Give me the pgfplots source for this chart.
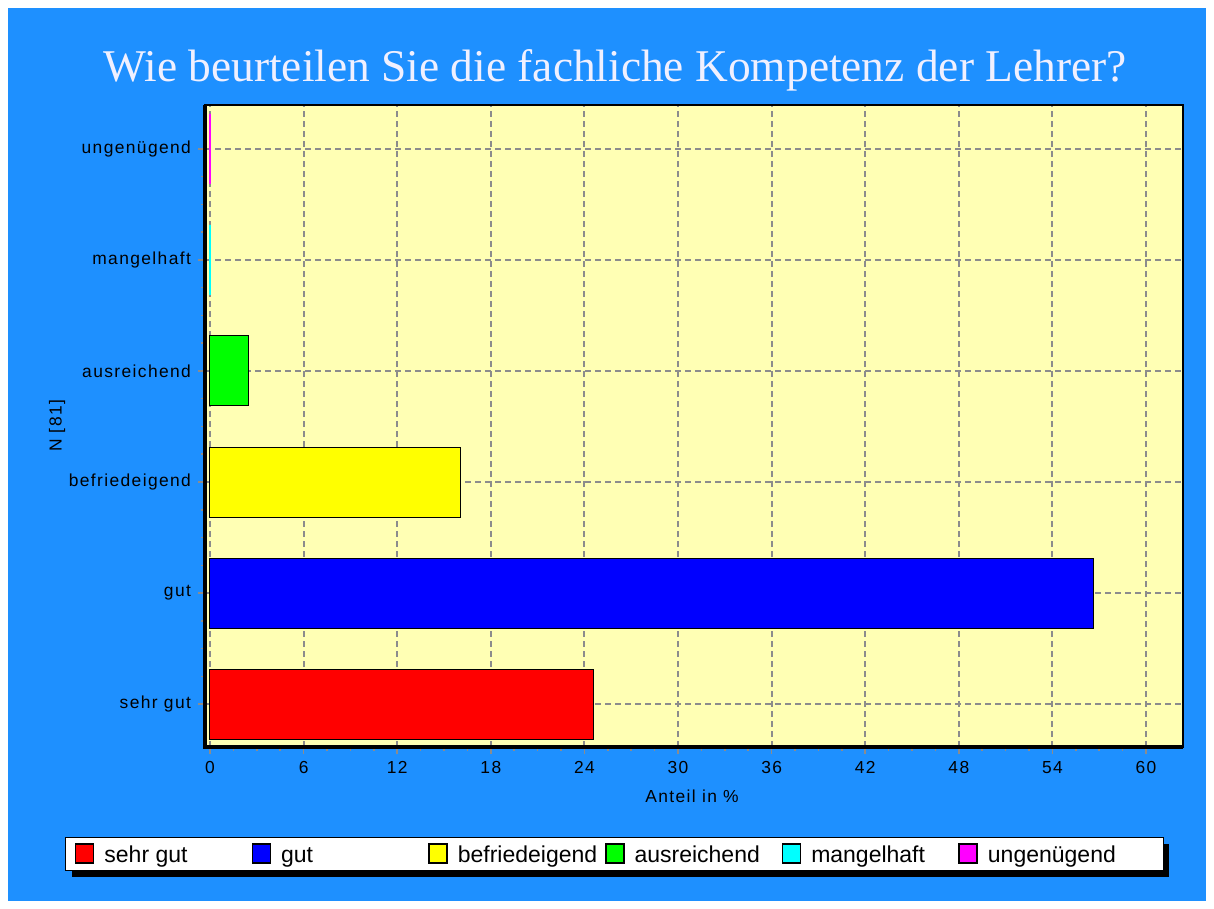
\documentclass[border=0pt]{standalone}
\usepackage{fontspec}
\setmainfont{Liberation Sans}
\newfontfamily\tickfont[LetterSpace=8]{Liberation Sans}
\newfontfamily\titlefont{Liberation Serif}
\usepackage{pgfplots}
\pgfplotsset{compat=1.18}
\definecolor{bgblue}{RGB}{30,144,255}
\definecolor{plotbg}{RGB}{255,255,180}
\definecolor{gridgray}{RGB}{140,140,140}
\definecolor{cred}{RGB}{255,0,0}
\definecolor{cblue}{RGB}{0,0,255}
\definecolor{cyellow}{RGB}{255,255,0}
\definecolor{cgreen}{RGB}{0,255,0}
\definecolor{ccyan}{RGB}{0,255,255}
\definecolor{cmagenta}{RGB}{255,0,255}
\definecolor{titlewhite}{RGB}{240,240,255}
\newcommand{\tf}{\tickfont\fontsize{8.7}{10}\selectfont}

\begin{document}
\begin{tikzpicture}
\useasboundingbox (0,0) rectangle (607pt,454.5pt);
\fill[white] (0,0) rectangle (607pt,454.5pt);
\fill[bgblue] (4pt,4pt) rectangle (603pt,450.5pt);
\node[anchor=base, text=titlewhite, font=\titlefont\fontsize{22.7}{27}\selectfont] at (307.5pt,413.5pt)
  {Wie beurteilen Sie die fachliche Kompetenz der Lehrer?};
% legend shadow
\fill[black] (36pt,16pt) rectangle (584.5pt,32.5pt);
\begin{axis}[
  at={(102.5pt,81pt)}, anchor=south west,
  scale only axis, width=489pt, height=321pt,
  axis background/.style={fill=plotbg},
  axis line style={black, line width=0.75pt},
  every axis plot/.append style={xbar, bar width=35pt, bar shift=0pt},
  xmin=-0.32, xmax=62.37, ymin=-0.387, ymax=5.396,
  xtick={0,6,...,60}, ytick={0,...,5},
  yticklabels={sehr gut, gut, befriedeigend, ausreichend, mangelhaft, ungenügend},
  minor x tick num=3, minor y tick num=3,
  xtick pos=bottom, ytick pos=left, tick align=outside,
  major tick length=3.5pt, minor tick length=2pt,
  tick style={gridgray, line width=0.75pt},
  tick label style={font=\tf},
  /pgf/number format/assume math mode=true,
  grid=major,
  major grid style={gridgray, dash pattern=on 3pt off 2pt, line width=1pt},
  xlabel={Anteil in \%}, ylabel={N [81]},
  xlabel style={font=\tf, at={(axis description cs:0.498,-0.0763)}, anchor=center},
  ylabel style={font=\tf, at={(axis description cs:-0.1513,0.5)}, anchor=center},
  legend columns=6,
  legend image code/.code={\draw[#1, draw=black, line width=0.75pt] (0pt,-0.5pt) rectangle (9pt,9pt);},
  legend style={at={(-0.1431,-0.1402)}, anchor=north west, draw=black, line width=0.5pt,
    fill=white,
    inner xsep=4.7pt, inner ysep=2.9pt, font=\fontsize{11.5}{13}\selectfont,
    nodes={inner sep=0pt, anchor=base west},
    /tikz/every odd column/.append style={column sep=5pt},
    /tikz/every even column/.append style={column sep=7.6pt}},
  after end axis/.code={\draw[black, line width=2pt] (rel axis cs:0,1) -- (rel axis cs:0,0) -- (rel axis cs:1,0);},
]
\addplot[fill=cred, draw=black, line width=0.5pt] coordinates {(24.6,0)};
\addplot[fill=cblue, draw=black, line width=0.5pt] coordinates {(56.6,1)};
\addplot[fill=cyellow, draw=black, line width=0.5pt] coordinates {(16.05,2)};
\addplot[fill=cgreen, draw=black, line width=0.5pt] coordinates {(2.47,3)};
\addplot[fill=ccyan, draw=ccyan, line width=1pt] coordinates {(0,4)};
\addplot[fill=cmagenta, draw=cmagenta, line width=1pt] coordinates {(0,5)};
\legend{\makebox[66pt][l]{sehr gut}, \makebox[66pt][l]{gut}, \makebox[66pt][l]{befriedeigend},
  \makebox[66pt][l]{ausreichend}, \makebox[66pt][l]{mangelhaft}, \makebox[83pt][l]{ungenügend}}
\end{axis}
\end{tikzpicture}
\end{document}
